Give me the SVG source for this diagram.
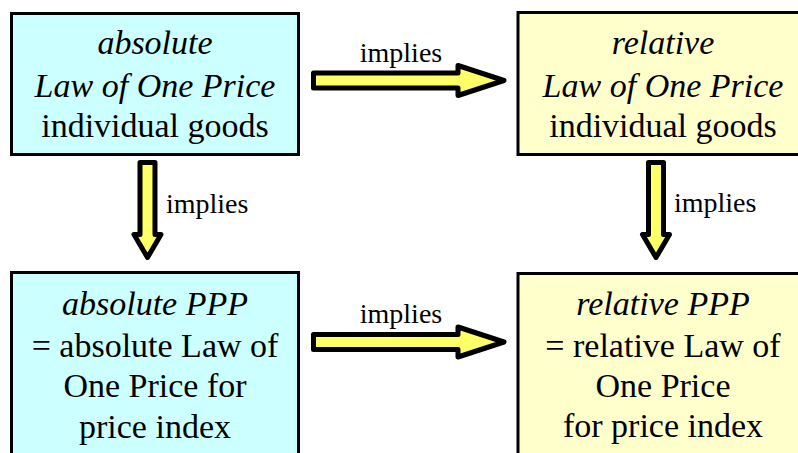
<svg xmlns="http://www.w3.org/2000/svg" width="798" height="453" viewBox="0 0 798 453" font-family="Liberation Serif, Tinos, DejaVu Serif, serif">
<style>
.box{stroke:#000;stroke-width:3}
.cyan{fill:#ccffff}
.yel{fill:#ffffcc}
.t{font-family:'Liberation Serif',Tinos,'DejaVu Serif',serif;font-size:34px;fill:#000;text-anchor:middle}
.i{font-style:italic}
.arr{fill:#ffff66;stroke:#000;stroke-width:5;stroke-linejoin:round}
.lbl{font-family:'Liberation Serif',Tinos,'DejaVu Serif',serif;font-size:28px;fill:#000}
</style>
<rect width="798" height="453" fill="#fff"/>
<g id="connectors">
<path class="arr" d="M313.5,73 H458 V65.5 L504,80.5 L458,95.5 V88 H313.5 Z"/>
<text class="lbl" x="401" y="62" text-anchor="middle">implies</text>
<path class="arr" d="M313.5,334.5 H458 V327 L504,342 L458,357 V349.5 H313.5 Z"/>
<text class="lbl" x="401" y="323" text-anchor="middle">implies</text>
<path class="arr" d="M140,162.5 H155 V234.5 H161 L147.5,257.5 L134,234.5 H140 Z"/>
<text class="lbl" x="166" y="213">implies</text>
<path class="arr" d="M648.5,162.5 H663.5 V234.5 H669.5 L656,257.5 L642.5,234.5 H648.5 Z"/>
<text class="lbl" x="674" y="212">implies</text>
</g>
<g id="abs-lop">
<rect class="box cyan" x="11.5" y="13.5" width="287" height="141"/>
<text class="t i" x="155" y="54">absolute</text>
<text class="t i" x="155" y="97">Law of One Price</text>
<text class="t" x="155" y="137">individual goods</text>
</g>
<g id="rel-lop">
<rect class="box yel" x="518" y="12.5" width="292" height="142"/>
<text class="t i" x="663" y="54">relative</text>
<text class="t i" x="663" y="97">Law of One Price</text>
<text class="t" x="663" y="137">individual goods</text>
</g>
<g id="abs-ppp">
<rect class="box cyan" x="11.5" y="272.5" width="287" height="200"/>
<text class="t" x="155" y="315"><tspan class="i">absolute PPP</tspan></text>
<text class="t" x="155" y="357">= absolute Law of</text>
<text class="t" x="155" y="397">One Price for</text>
<text class="t" x="155" y="438">price index</text>
</g>
<g id="rel-ppp">
<rect class="box yel" x="518" y="273.5" width="292" height="200"/>
<text class="t" x="663" y="315"><tspan class="i">relative PPP</tspan></text>
<text class="t" x="663" y="357">= relative Law of</text>
<text class="t" x="663" y="397">One Price</text>
<text class="t" x="663" y="437">for price index</text>
</g>
</svg>
